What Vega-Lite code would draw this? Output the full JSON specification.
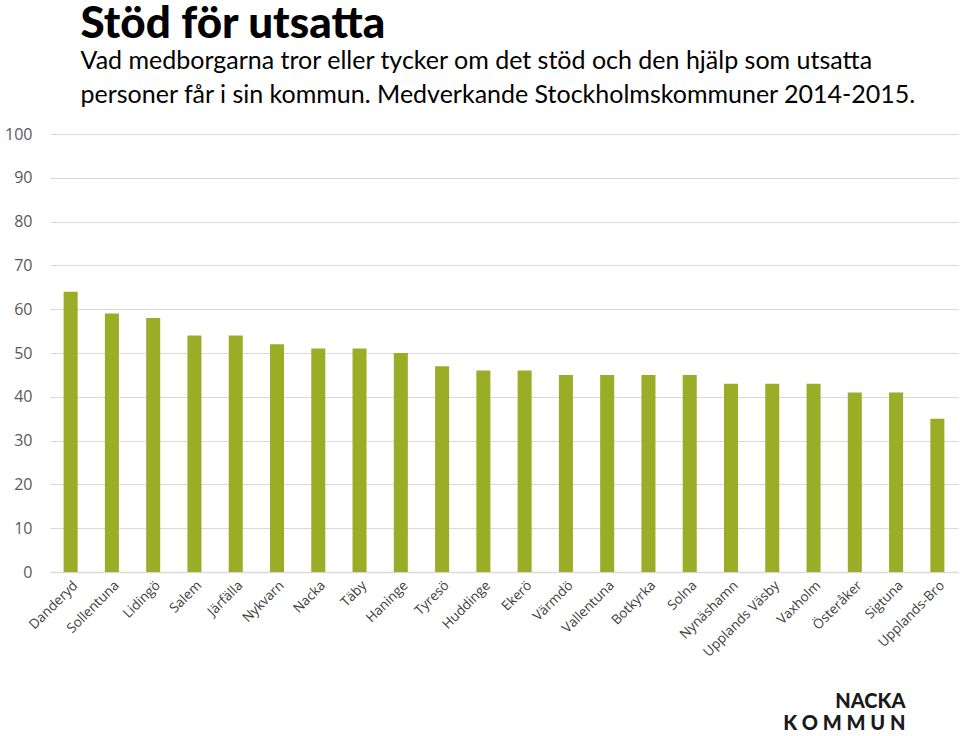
{
  "$schema": "https://vega.github.io/schema/vega-lite/v6.json",
  "autosize": {"type": "fit", "contains": "padding"},
  "width": 960,
  "height": 736,
  "padding": {"left": 4, "top": 3, "right": 2, "bottom": 2},
  "background": "white",
  "title": {
    "text": "Stöd för utsatta",
    "subtitle": ["Vad medborgarna tror eller tycker om det stöd och den hjälp som utsatta", "personer får i sin kommun. Medverkande Stockholmskommuner 2014-2015."],
    "anchor": "start",
    "frame": "bounds",
    "dx": 76,
    "font": "Lato",
    "fontSize": 44,
    "fontWeight": 900,
    "color": "#000000",
    "subtitleFont": "Lato",
    "subtitleFontSize": 25,
    "subtitleColor": "#000000",
    "subtitleLineHeight": 34,
    "subtitlePadding": 2,
    "offset": 18
  },
  "data": {
    "values": [
      {"kommun": "Danderyd", "value": 64},
      {"kommun": "Sollentuna", "value": 59},
      {"kommun": "Lidingö", "value": 58},
      {"kommun": "Salem", "value": 54},
      {"kommun": "Järfälla", "value": 54},
      {"kommun": "Nykvarn", "value": 52},
      {"kommun": "Nacka", "value": 51},
      {"kommun": "Täby", "value": 51},
      {"kommun": "Haninge", "value": 50},
      {"kommun": "Tyresö", "value": 47},
      {"kommun": "Huddinge", "value": 46},
      {"kommun": "Ekerö", "value": 46},
      {"kommun": "Värmdö", "value": 45},
      {"kommun": "Vallentuna", "value": 45},
      {"kommun": "Botkyrka", "value": 45},
      {"kommun": "Solna", "value": 45},
      {"kommun": "Nynäshamn", "value": 43},
      {"kommun": "Upplands Väsby", "value": 43},
      {"kommun": "Vaxholm", "value": 43},
      {"kommun": "Österåker", "value": 41},
      {"kommun": "Sigtuna", "value": 41},
      {"kommun": "Upplands-Bro", "value": 35}
    ]
  },
  "mark": {"type": "bar", "color": "#99AE26"},
  "encoding": {
    "x": {
      "field": "kommun",
      "type": "nominal",
      "sort": null,
      "scale": {"paddingInner": 0.66, "paddingOuter": 0.33},
      "axis": {
        "title": ["NACKA", "K O M M U N"],
        "titleAnchor": "end",
        "titleAlign": "right",
        "titleFont": "Lato",
        "titleFontWeight": 900,
        "titleFontSize": 20,
        "titleColor": "#1a1a1a",
        "titleLineHeight": 22,
        "titlePadding": 33,
        "titleX": 855,
        "labelAngle": -45,
        "labelFont": "Open Sans",
        "labelFontSize": 13.5,
        "labelColor": "#404040",
        "labelPadding": 6,
        "ticks": false,
        "domainColor": "#d9d9d9",
        "domainWidth": 1.5
      }
    },
    "y": {
      "field": "value",
      "type": "quantitative",
      "scale": {"domain": [0, 100]},
      "axis": {
        "title": null,
        "values": [0, 10, 20, 30, 40, 50, 60, 70, 80, 90, 100],
        "domain": false,
        "ticks": false,
        "labelFont": "Open Sans",
        "labelFontSize": 16,
        "labelColor": "#595959",
        "labelPadding": 18,
        "gridColor": "#d9d9d9",
        "gridWidth": 1.2
      }
    }
  },
  "config": {"view": {"stroke": null}}
}
